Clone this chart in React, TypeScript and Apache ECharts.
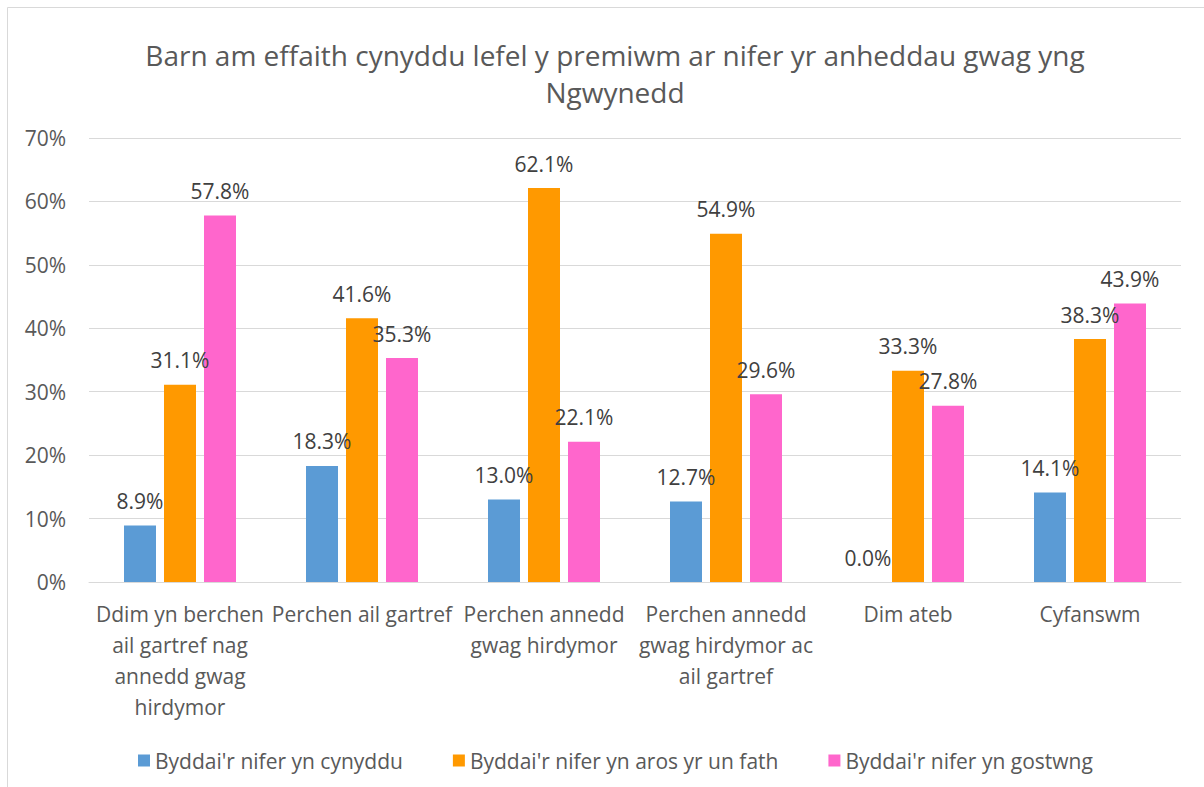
import React, { useEffect, useRef } from "react";
import * as echarts from "echarts";

const categories = [
  "Ddim yn berchen\nail gartref nag\nannedd gwag\nhirdymor",
  "Perchen ail gartref",
  "Perchen annedd\ngwag hirdymor",
  "Perchen annedd\ngwag hirdymor ac\nail gartref",
  "Dim ateb",
  "Cyfanswm",
];
const seriesNames = [
  "Byddai'r nifer yn cynyddu",
  "Byddai'r nifer yn aros yr un fath",
  "Byddai'r nifer yn gostwng",
];
const increaseValues = [8.9, 18.3, 13.0, 12.7, 0.0, 14.1];
const sameValues = [31.1, 41.6, 62.1, 54.9, 33.3, 38.3];
const decreaseValues = [57.8, 35.3, 22.1, 29.6, 27.8, 43.9];
const colors = ["#5B9BD5", "#FF9900", "#FF66CC"];
const titleText = "Barn am effaith cynyddu lefel y premiwm ar nifer yr anheddau gwag yng\nNgwynedd";

const FONT = "'Open Sans', sans-serif";

export default function App() {
  const ref = useRef<HTMLDivElement>(null);
  useEffect(() => {
    document.body.style.margin = "0";
    const chart = echarts.init(ref.current!, null, { renderer: "svg" });
    const allValues = [increaseValues, sameValues, decreaseValues];
    chart.setOption({
      animation: false,
      textStyle: { fontFamily: FONT },
      title: {
        text: titleText,
        left: 610,
        textAlign: "center",
        top: 31,
        textStyle: {
          fontFamily: FONT,
          fontSize: 28,
          fontWeight: "normal",
          color: "#595959",
          lineHeight: 37,
        },
      },
      graphic: [
        {
          type: "rect",
          shape: { x: 7.5, y: 7.5, width: 1400, height: 1000 },
          style: { fill: "none", stroke: "#d9d9d9", lineWidth: 1 },
          silent: true,
        },
      ],
      legend: {
        left: 133,
        top: 745,
        itemWidth: 12,
        itemHeight: 12,
        itemGap: 50,
        icon: "rect",
        textStyle: { fontFamily: FONT, fontSize: 21, color: "#595959" },
        data: seriesNames,
      },
      grid: { left: 89, right: 23, top: 138, bottom: 205, containLabel: false },
      xAxis: {
        type: "category",
        data: categories,
        axisLine: { lineStyle: { color: "#d9d9d9", width: 1 } },
        axisTick: { show: false },
        axisLabel: {
          interval: 0,
          fontFamily: FONT,
          fontSize: 21,
          color: "#595959",
          lineHeight: 31,
          margin: 16,
        },
      },
      yAxis: {
        type: "value",
        min: 0,
        max: 70,
        interval: 10,
        axisLine: { show: false },
        axisTick: { show: false },
        splitLine: { lineStyle: { color: "#d9d9d9", width: 1 } },
        axisLabel: {
          formatter: "{value}%",
          fontFamily: FONT,
          fontSize: 21,
          color: "#595959",
          margin: 23,
        },
      },
      series: seriesNames.map((name, i) => ({
        name,
        type: "bar",
        data: allValues[i],
        barWidth: 32,
        barGap: "25%",
        itemStyle: { color: colors[i] },
        label: {
          show: true,
          position: "top",
          distance: 14,
          fontFamily: FONT,
          fontSize: 21,
          color: "#404040",
          formatter: (p: any) => Number(p.value).toFixed(1) + "%",
        },
      })),
    });
    return () => chart.dispose();
  }, []);
  return <div ref={ref} style={{ width: 1204, height: 787 }} />;
}
